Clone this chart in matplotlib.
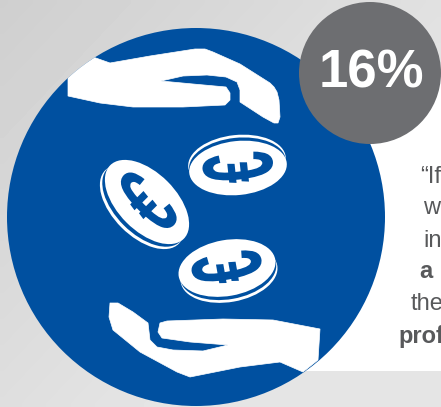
import numpy as np
import matplotlib
matplotlib.use('Agg')
import matplotlib.pyplot as plt
from matplotlib.patches import Circle, Ellipse, Polygon, PathPatch, Rectangle
from matplotlib.textpath import TextPath
from matplotlib.font_manager import FontProperties
from matplotlib.transforms import Affine2D

W, H = 441, 407
BLUE = '#0050a0'
GREY = '#6d6e71'
TEXT = '#58595b'

headline = '16%'
body_lines = ['\u201cIf', 'w', 'in', 'a', 'the', 'prof']
body_x = [420, 423, 423, 419, 411, 398]
body_base = [183, 214, 247, 278, 310, 343]
body_bold = [False, False, False, True, False, True]

upper_hand = [(68,77),(93,57),(110,63),(150,56),(195,49),(205,49),(213,52),(240,64),(270,83),(274,87),(277,92),(279,100),(280,117),(278,123),(274,123),(263,117),(240,102),(240,90),(237,82),(226,77),(207,75),(183,76),(161,81),(193,84),(226,87),(230,93),(230,100),(225,105),(183,107),(133,107),(100,103),(68,96)]
lower_hand = [(110,303),(118,303),(133,312),(148,323),(150,340),(157,347),(173,350),(203,351),(228,345),(190,342),(162,338),(158,332),(160,323),(167,321),(223,319),(273,320),(320,329),(318,360),(303,372),(280,362),(240,367),(190,377),(177,372),(140,352),(113,330),(109,317)]
coin_centres = [(238,168),(147,202),(227,268)]
coin_axes = [(49,27),(52,29),(49,28)]
coin_tilt = [6,-45,10]
coin_ring = [(-1,-6),(-5,5),(2,6)]

fig = plt.figure(figsize=(W/100, H/100), dpi=100)
ax = fig.add_axes([0,0,1,1])
ax.set_xlim(0, W); ax.set_ylim(H, 0); ax.axis('off')

yy, xx = np.mgrid[0:1:60j, 0:1:60j]
grad = 207 + 22*np.clip((xx*0.8 + yy*0.7), 0, 1)
ax.imshow(grad, extent=(0,W,H,0), cmap='gray', vmin=0, vmax=255, aspect='auto', zorder=0, interpolation='bilinear')
ax.set_xlim(0, W); ax.set_ylim(H, 0)

ax.add_patch(Rectangle((290,75), 160, 296, fc='white', ec='none', zorder=1))
big = Circle((196,217), 189, fc=BLUE, ec='none', zorder=2)
ax.add_patch(big)
for pts in (upper_hand, lower_hand):
    p = Polygon(pts, closed=True, fc='white', ec='white', lw=0.5, joinstyle='round', zorder=3)
    ax.add_patch(p)
    p.set_clip_path(big)

fp = FontProperties(family='Liberation Sans', weight='bold')
for (cx,cy),(a,b),t,(dx,dy) in zip(coin_centres, coin_axes, coin_tilt, coin_ring):
    ax.add_patch(Ellipse((cx+dx,cy+dy), 2*a, 2*b, angle=-t, fc='white', ec='none', zorder=4))
    ax.add_patch(Ellipse((cx+dx*0.62,cy+dy*0.62), 2*a-1, 2*b-1, angle=-t, fc=BLUE, ec='none', zorder=5))
    ax.add_patch(Ellipse((cx,cy), 2*a, 2*b, angle=-t, fc='white', ec='none', zorder=6))
    tp = TextPath((0,0), '\u20ac', size=1, prop=fp)
    bb = tp.get_extents()
    tr = (Affine2D().translate(-bb.x0-bb.width/2, -bb.y0-bb.height/2).scale(100, 100)
          .rotate_deg(90).scale(1, 0.55).rotate_deg(t).scale(1,-1).translate(cx,cy))
    ax.add_patch(PathPatch(tp, transform=tr+ax.transData, fc=BLUE, ec='none', zorder=7))

ax.add_patch(Circle((370,73), 71, fc=GREY, ec='none', zorder=8))
ax.text(371, 74, headline, family='Liberation Sans', weight='bold', fontsize=38, color='white', ha='center', va='center', zorder=9)

for s,x,y,b in zip(body_lines, body_x, body_base, body_bold):
    ax.text(x, y, s, family='Liberation Sans', fontsize=17, color=TEXT, weight='bold' if b else 'normal', ha='left', va='baseline', zorder=9)

fig.savefig('out.png', dpi=100)
